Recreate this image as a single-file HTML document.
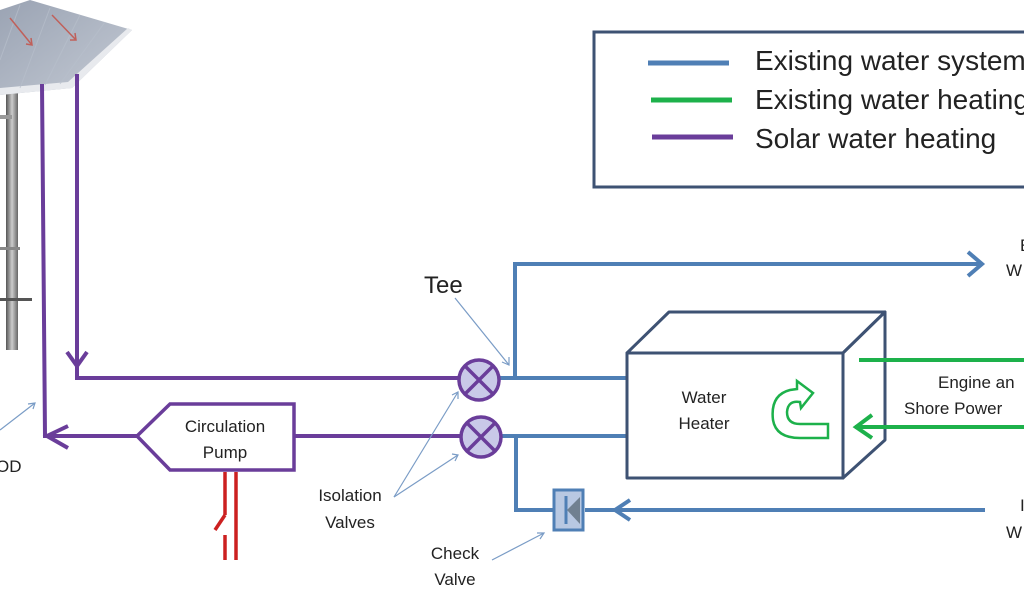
<!DOCTYPE html>
<html><head><meta charset="utf-8"><style>
html,body{margin:0;padding:0;background:#fff;width:1024px;height:600px;overflow:hidden}
svg{display:block}
text{font-family:"Liberation Sans",sans-serif;fill:#222}
</style></head><body>
<svg width="1024" height="600" viewBox="0 0 1024 600" xmlns="http://www.w3.org/2000/svg">
<defs>
<linearGradient id="pg" x1="0" y1="0" x2="1" y2="1"><stop offset="0" stop-color="#9aa3b3"/><stop offset="1" stop-color="#c4cad4"/></linearGradient>
<linearGradient id="pole" x1="0" x2="1"><stop offset="0" stop-color="#555"/><stop offset=".5" stop-color="#ccc"/><stop offset="1" stop-color="#666"/></linearGradient>
</defs>
<rect x="6" y="88" width="12" height="262" fill="url(#pole)"/>
<rect x="0" y="115" width="12" height="4" fill="#999"/>
<rect x="0" y="247" width="20" height="3" fill="#888"/>
<rect x="0" y="298" width="32" height="3" fill="#555"/>
<polygon points="30,0 132,30 72,88 0,95 0,10" fill="url(#pg)"/>
<polygon points="132,30 72,88 0,95 0,88 68,82 128,28" fill="#e8eaee"/>
<g stroke="#b8c0cc" stroke-width="1" opacity=".7"><line x1="20" y1="5" x2="0" y2="60"/><line x1="50" y1="8" x2="20" y2="88"/><line x1="80" y1="15" x2="45" y2="85"/><line x1="105" y1="22" x2="60" y2="84"/></g>
<g stroke="#c0605a" stroke-width="1.5" fill="none"><line x1="10" y1="18" x2="32" y2="45"/><polyline points="26,44 32,45 31,38"/><line x1="52" y1="15" x2="76" y2="40"/><polyline points="70,40 76,40 75,33"/></g>
<g stroke="#6a3d9a" stroke-width="4" fill="none">
<polyline points="42,84 45,436 137,436"/>
<polyline points="77,74 77,378 458,378"/>
<polyline points="67,352 77,366 87,352"/>
<line x1="295" y1="436" x2="460" y2="436"/>
<polygon points="137,436 170,404 294,404 294,470 170,470" stroke-width="3.5" fill="#fff"/>
<polyline points="68,426 47,436 68,448"/>
</g>
<text x="225" y="432" font-size="17" text-anchor="middle">Circulation</text>
<text x="225" y="458" font-size="17" text-anchor="middle">Pump</text>
<g stroke="#cc2020" stroke-width="3.5" fill="none"><line x1="236" y1="472" x2="236" y2="560"/><line x1="225" y1="472" x2="225" y2="515"/><line x1="225" y1="535" x2="225" y2="560"/><line x1="225" y1="515" x2="215" y2="530"/></g>
<g stroke="#4f7fb5" stroke-width="4" fill="none">
<polyline points="495,378 627,378"/>
<polyline points="515,378 515,264 980,264"/>
<polyline points="968,252 982,264 968,276"/>
<polyline points="500,436 627,436"/>
<polyline points="516,436 516,510 553,510"/>
<line x1="585" y1="510" x2="985" y2="510"/>
<polyline points="630,500 615,510 630,520"/>
</g>
<rect x="554" y="490" width="29" height="40" fill="#b8c8e2" stroke="#4f7fb5" stroke-width="3"/>
<line x1="566" y1="496" x2="566" y2="524" stroke="#4f7fb5" stroke-width="3"/>
<polygon points="567,510 580,497 580,524" fill="#708090"/>
<g stroke="#6a3d9a" stroke-width="3.5" fill="#c9c9e8">
<circle cx="479" cy="380" r="20"/><circle cx="481" cy="437" r="20"/>
<path d="M465,366 L493,394 M493,366 L465,394 M467,423 L495,451 M495,423 L467,451" fill="none"/>
</g>
<g stroke="#7a9cc6" stroke-width="1.2" fill="none">
<line x1="455" y1="298" x2="509" y2="365"/><polyline points="502,362 509,365 509,357"/>
<line x1="394" y1="497" x2="458" y2="392"/><polyline points="452,395 458,392 458,399"/>
<line x1="394" y1="497" x2="458" y2="455"/><polyline points="452,454 458,455 455,461"/>
<line x1="492" y1="560" x2="544" y2="533"/><polyline points="537,533 544,533 540,539"/>
<line x1="0" y1="430" x2="35" y2="403"/><polyline points="28,404 35,403 33,409"/>
</g>
<text x="424" y="293" font-size="24">Tee</text>
<text x="350" y="501" font-size="17" text-anchor="middle">Isolation</text>
<text x="350" y="528" font-size="17" text-anchor="middle">Valves</text>
<text x="455" y="559" font-size="17" text-anchor="middle">Check</text>
<text x="455" y="585" font-size="17" text-anchor="middle">Valve</text>
<text x="-4" y="472" font-size="17">OD</text>
<g stroke="#3e5273" stroke-width="3" fill="#fff" stroke-linejoin="round">
<polygon points="627,353 669,312 885,312 843,353"/>
<polygon points="843,353 885,312 885,440 843,478"/>
<rect x="627" y="353" width="216" height="125"/>
</g>
<text x="704" y="403" font-size="17" text-anchor="middle">Water</text>
<text x="704" y="429" font-size="17" text-anchor="middle">Heater</text>
<path d="M790,390 Q770,395 773,420 Q776,438 800,438 L828,438 L828,424 L800,424 Q787,424 787,412 Q788,400 800,402 L801,408 L813,393 L797,381 L797,389 Z" fill="none" stroke="#1db14b" stroke-width="2.5"/>
<g stroke="#1db14b" stroke-width="4" fill="none">
<line x1="859" y1="360" x2="1024" y2="360"/>
<line x1="855" y1="427" x2="1024" y2="427"/>
<polyline points="872,415 856,427 872,438"/>
</g>
<text x="938" y="388" font-size="17">Engine an</text>
<text x="904" y="414" font-size="17">Shore Power</text>
<text x="1020" y="251" font-size="17">E</text>
<text x="1006" y="276" font-size="17">W</text>
<text x="1020" y="511" font-size="17">I</text>
<text x="1006" y="538" font-size="17">W</text>
<rect x="594" y="32" width="440" height="155" fill="#fff" stroke="#3e5273" stroke-width="3"/>
<line x1="648" y1="63" x2="729" y2="63" stroke="#4f7fb5" stroke-width="5"/>
<line x1="651" y1="100" x2="732" y2="100" stroke="#1db14b" stroke-width="5"/>
<line x1="652" y1="137" x2="733" y2="137" stroke="#6a3d9a" stroke-width="5"/>
<text x="755" y="70" font-size="28">Existing water system</text>
<text x="755" y="109" font-size="28">Existing water heating</text>
<text x="755" y="148" font-size="28">Solar water heating</text>
</svg>
</body></html>
